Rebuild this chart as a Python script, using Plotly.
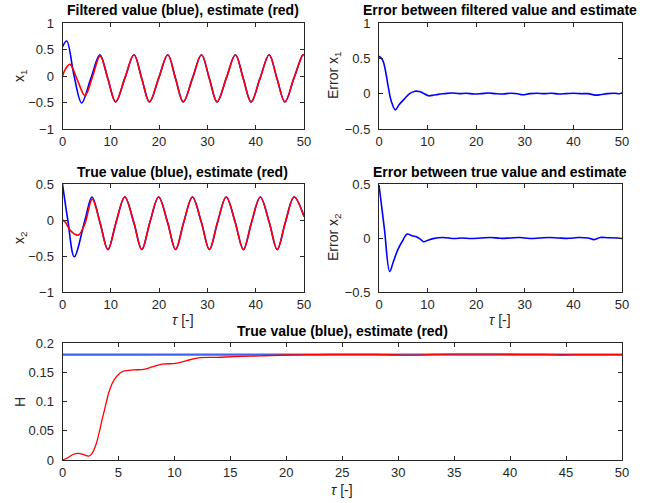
import plotly.graph_objects as go

# ---------------- data ----------------
# x1 : filtered value (blue) and estimate (red)
x1_true_t_start = [0, 0.87, 2.4, 3.97, 5.85, 7.75, 9.37]
x1_true_start = [0.55, 0.66, 0.0, -0.51, -0.05, 0.40, -0.045]
x1_est_t_start = [0, 0.6, 1.55, 3.1, 4.65, 6.2, 7.78, 9.4]
x1_est_start = [0.0, 0.13, 0.22, -0.08, -0.37, -0.02, 0.375, -0.05]
x1_t_steady = [11.0, 12.9, 14.8, 16.4, 18.0, 19.9, 21.8, 23.4, 25.0, 26.9,
               28.78, 30.4, 32.0, 33.9, 35.8, 37.42, 39.05, 40.9, 42.78, 44.4,
               46.05, 47.9, 49.78, 50.0]
x1_steady = [-0.49, -0.045, 0.40, -0.045, -0.49, -0.045, 0.40, -0.045, -0.49, -0.045,
             0.40, -0.045, -0.49, -0.045, 0.40, -0.045, -0.49, -0.045, 0.40, -0.045,
             -0.49, -0.045, 0.40, 0.395]

# x2 : true value (blue) and estimate (red)
x2_true_t_start = [0, 1.1, 2.44, 4.65, 6.1, 7.75]
x2_true_start = [0.5, 0.0, -0.51, 0.0, 0.32, -0.03]
x2_est_t_start = [0, 0.6, 1.55, 3.25, 4.65, 6.15, 7.75]
x2_est_start = [0.0, -0.03, -0.14, -0.21, -0.05, 0.29, -0.03]
x2_t_steady = [9.4, 11.1, 12.9, 14.75, 16.42, 18.1, 19.9, 21.75, 23.42, 25.1,
               26.9, 28.75, 30.42, 32.1, 33.9, 35.75, 37.45, 39.15, 40.95, 42.8,
               44.45, 46.15, 47.95, 50.0]
x2_steady = [-0.41, -0.03, 0.32, -0.03, -0.41, -0.03, 0.32, -0.03, -0.41, -0.03,
             0.32, -0.03, -0.41, -0.03, 0.32, -0.03, -0.41, -0.03, 0.32, -0.03,
             -0.41, -0.03, 0.32, 0.05]

# error between filtered value and estimate (x1)
err1_t = [0, 0.5, 0.9, 1.4, 1.9, 2.5, 3.35, 4.2, 5.35, 6.3, 7.4, 8.3, 9.3, 10.2,
          11.3, 12.2, 13.5, 15, 16.5, 18, 19.5, 21, 22.5, 24, 25.5, 27, 28.5,
          29.5, 31, 32.5, 34, 35.5, 37, 38.5, 40, 41.5, 43, 44.5, 45.5, 47,
          48.5, 49.5, 50]
err1 = [0.53, 0.50, 0.45, 0.30, 0.10, -0.10, -0.23, -0.15, -0.065, 0.0, 0.035,
        0.03, 0.0, -0.03, -0.02, -0.01, 0.0, 0.01, 0.0, 0.005, -0.005, 0.0,
        0.01, 0.0, -0.005, 0.005, 0.0, -0.015, 0.0, 0.005, 0.0, 0.005, -0.005,
        0.0, 0.005, 0.0, 0.0, -0.02, -0.015, 0.0, 0.005, 0.0, 0.015]

# error between true value and estimate (x2)
err2_t = [0, 1.1, 2.2, 2.95, 3.9, 4.8, 5.8, 6.8, 7.7, 8.5, 9.2, 10.1, 11.1,
          13.1, 15.5, 17, 19, 21, 23, 25, 27, 29, 31, 33, 35, 37, 39, 41, 43,
          44.3, 45.5, 47, 49, 50]
err2 = [0.49, 0.09, -0.31, -0.22, -0.105, -0.03, 0.037, 0.02, 0.012, -0.01,
        -0.034, -0.02, -0.006, 0.005, -0.005, 0.0, -0.005, 0.0, 0.005, -0.003,
        0.0, 0.004, -0.004, 0.0, 0.005, 0.0, -0.003, 0.004, 0.0, -0.015, 0.005,
        0.003, 0.0, -0.005]

# H : true value (blue) and estimate (red)
H_t = [0, 50]
H_true = [0.18, 0.18]
H_est_t = [0, 0.39, 0.9, 1.43, 1.9, 2.33, 2.6, 2.93, 3.23, 3.53, 3.83, 4.12,
           4.42, 4.72, 5.1, 5.46, 6.36, 7.25, 8.0, 8.9, 10.1, 11.1, 12.3, 13.8,
           15.3, 17.7, 20, 22, 24, 26, 28, 30, 31.5, 33, 35, 37, 39, 41, 43,
           44.5, 46, 48, 50]
H_est = [0, 0.003, 0.009, 0.0114, 0.009, 0.0068, 0.010, 0.023, 0.043, 0.068,
         0.092, 0.114, 0.13, 0.14, 0.148, 0.152, 0.154, 0.155, 0.159, 0.164,
         0.165, 0.17, 0.175, 0.1755, 0.1766, 0.178, 0.1795, 0.18, 0.1805,
         0.1805, 0.1805, 0.1795, 0.1792, 0.1805, 0.181, 0.181, 0.181, 0.1805,
         0.1805, 0.1795, 0.18, 0.18, 0.18]

titles = ["Filtered value (blue), estimate (red)",
          "Error between filtered value and estimate",
          "True value (blue), estimate (red)",
          "Error between true value and estimate",
          "True value (blue), estimate (red)"]
ylabels = ["x<sub>1</sub>", "Error x<sub>1</sub>", "x<sub>2</sub>",
           "Error x<sub>2</sub>", "H"]
xlabel = "<i>τ</i> [-]"

# ---------------- figure ----------------
W, H = 650, 503
BLUE = "#0000ff"
RED = "#ff0000"
AX = "#262626"
FONT = "Liberation Sans, Arial, sans-serif"


def px_x(p):
    return p / W


def px_y(p):
    return 1 - p / H


fig = go.Figure()


def line(x, y, color, xa, ya, width=1.6, shape="spline"):
    fig.add_trace(go.Scatter(x=x, y=y, mode="lines", xaxis=xa, yaxis=ya,
                             line=dict(color=color, width=width, shape=shape,
                                       smoothing=1.0),
                             showlegend=False, hoverinfo="skip"))


line(x1_true_t_start + x1_t_steady, x1_true_start + x1_steady, BLUE, "x", "y")
line(x1_est_t_start + x1_t_steady, x1_est_start + x1_steady, RED, "x", "y")
line(err1_t, err1, BLUE, "x2", "y2")
line(x2_true_t_start + x2_t_steady, x2_true_start + x2_steady, BLUE, "x3", "y3")
line(x2_est_t_start + x2_t_steady, x2_est_start + x2_steady, RED, "x3", "y3")
line(err2_t, err2, BLUE, "x4", "y4")
line(H_t, H_true, "#3f62f2", "x5", "y5", width=2.2, shape="linear")
line(H_est_t, H_est, RED, "x5", "y5", width=1.3)

boxes = [  # left, right, top, bottom in page pixels
    (62.5, 304, 23, 129),
    (379, 622, 23, 129),
    (62.5, 304, 184, 292),
    (379, 622, 184, 292),
    (62.5, 622, 343, 460),
]
yranges = [[-1, 1], [-0.5, 1], [-1, 0.5], [-0.5, 0.5], [0, 0.2]]
ydticks = [0.5, 0.5, 0.5, 0.5, 0.05]
xdticks = [10, 10, 10, 10, 5]

common = dict(ticks="inside", ticklen=4, tickwidth=1, tickcolor=AX,
              showline=True, linecolor=AX, linewidth=1, mirror="ticks",
              showgrid=False, zeroline=False, fixedrange=True, automargin=False,
              tickfont=dict(family=FONT, size=13, color=AX))

layout = dict(width=W, height=H, margin=dict(l=0, r=0, t=0, b=0, pad=0),
              paper_bgcolor="white", plot_bgcolor="white",
              font=dict(family=FONT, color=AX), showlegend=False)

for i, (l, r, t, b) in enumerate(boxes):
    k = "" if i == 0 else str(i + 1)
    layout["xaxis" + k] = dict(common, domain=[px_x(l), px_x(r)], range=[0, 50],
                               tick0=0, dtick=xdticks[i], anchor="y" + k)
    layout["yaxis" + k] = dict(common, domain=[px_y(b), px_y(t)],
                               range=yranges[i], tick0=0, dtick=ydticks[i],
                               anchor="x" + k, ticklabelstandoff=5)

ann = []
title_pos = [(183, 10), (500, 10), (183, 172), (500, 172), (342, 331)]
for (cx, cy), txt in zip(title_pos, titles):
    ann.append(dict(x=px_x(cx), y=px_y(cy), xref="paper", yref="paper",
                    text="<b>" + txt + "</b>", showarrow=False,
                    xanchor="center", yanchor="middle",
                    font=dict(family=FONT, size=14, color="black")))
ylab_pos = [(20, 76), (334, 76), (20, 238), (334, 238), (20, 402)]
for (cx, cy), txt in zip(ylab_pos, ylabels):
    ann.append(dict(x=px_x(cx), y=px_y(cy), xref="paper", yref="paper",
                    text=txt, showarrow=False, textangle=-90,
                    xanchor="center", yanchor="middle",
                    font=dict(family=FONT, size=14, color=AX)))
for cx, cy in [(183, 320), (500, 320), (342, 490)]:
    ann.append(dict(x=px_x(cx), y=px_y(cy), xref="paper", yref="paper",
                    text=xlabel, showarrow=False, xanchor="center",
                    yanchor="middle", font=dict(family=FONT, size=14, color=AX)))
layout["annotations"] = ann

fig.update_layout(**layout)
# remove the browser's default 8 px page margin so the figure fills the window
fig.write_html("out.html",
               config={"displayModeBar": False, "staticPlot": True},
               post_script="document.body.style.margin='0px';"
                           "document.body.style.overflow='hidden';")
